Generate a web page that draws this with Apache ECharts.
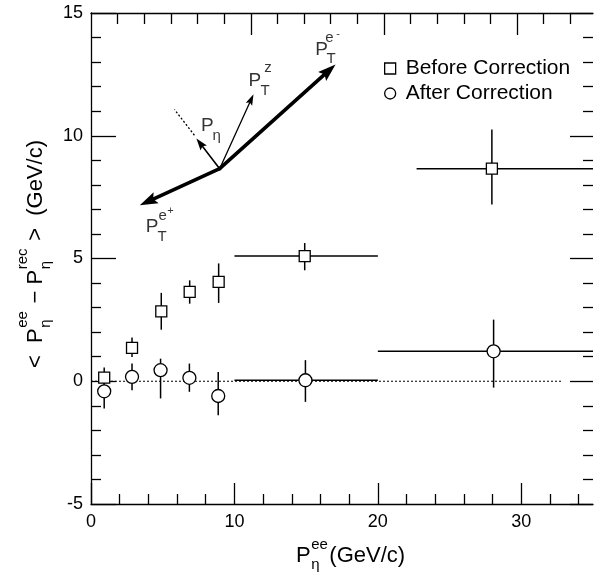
<!DOCTYPE html>
<html><head><meta charset="utf-8">
<script src="https://cdn.jsdelivr.net/npm/echarts@6/dist/echarts.min.js"></script>
<style>html,body{margin:0;padding:0;background:#fff}#c{width:595px;height:579px}</style>
</head><body><div id="c"></div>
<script>
// ---------- data ----------
const beforeX     = [0.92, 2.86, 4.90, 6.88, 8.90, 14.90, 27.95];
const beforeY     = [0.15, 1.36, 2.85, 3.64, 4.05, 5.10, 8.66];
const beforeYLow  = [-0.25, 0.99, 2.10, 3.16, 3.19, 4.52, 7.20];
const beforeYHigh = [0.56, 1.78, 3.60, 4.11, 4.80, 5.63, 10.25];
const beforeXLow  = [null, null, null, null, null, 10, 22.7];
const beforeXHigh = [null, null, null, null, null, 20, 35];

const afterX     = [0.92, 2.86, 4.85, 6.86, 8.87, 14.95, 28.07];
const afterY     = [-0.41, 0.18, 0.45, 0.14, -0.60, 0.04, 1.22];
const afterYLow  = [-1.11, -0.37, -0.70, -0.43, -1.38, -0.84, -0.26];
const afterYHigh = [0.29, 0.72, 0.92, 0.72, 0.38, 0.86, 2.51];
const afterXLow  = [null, null, null, null, null, 10, 20];
const afterXHigh = [null, null, null, null, null, 20, 35];

const zeroLine = [[0, 0], [32.8, 0]];

const xMajorTicks = [0, 10, 20, 30];
const xTickLabels = ['0', '10', '20', '30'];
const yTickLabels = ['-5', '0', '5', '10', '15'];

// schematic vectors (data coordinates)
const arrowNames = ['ePlus', 'eMinus', 'z', 'eta'];
const arrowFrom  = [[8.97, 8.66], [8.97, 8.66], [8.97, 8.66], [8.97, 8.66]];
const arrowTo    = [[3.40, 7.17], [17.05, 12.90], [11.33, 11.69], [7.35, 9.89]];
const etaDotted  = [[7.21, 10.02], [5.82, 11.07]];

const labelText = ['P', 'η', 'P', 'T', 'z', 'P', 'T', 'e', '-', 'P', 'T', 'e', '+'];
const labelRole = ['main', 'sub', 'main', 'sub', 'sup', 'main', 'sub', 'sup', 'sign', 'main', 'sub', 'sup', 'sign'];
const labelX = [8.11, 8.77, 11.43, 12.13, 12.34, 16.08, 16.74, 16.63, 17.22, 4.26, 4.95, 4.99, 5.54];
const labelY = [10.39, 9.98, 12.24, 11.81, 12.75, 13.52, 13.12, 13.97, 14.13, 6.31, 5.87, 6.72, 6.92];

// ---------- styles ----------
const FF = '"Liberation Sans", Arial, Helvetica, sans-serif';
const BLACK = '#000';
const ROLE_SIZE = { main: 19, sub: 15, sup: 15, sign: 11 };
const ARROW_STYLE = {
  ePlus:  { w: 3.6, hl: 18, hw: 12 },
  eMinus: { w: 3.6, hl: 18, hw: 12 },
  z:      { w: 1.3, hl: 11, hw: 7 },
  eta:    { w: 1.6, hl: 12, hw: 8 }
};

const xMinorTicks = [];
for (let v = 2; v < 35; v += 2) if (v % 10 !== 0) xMinorTicks.push(v);
const topMajorTicks = [6, 11, 16];
const topMinorTicks = [];
for (let v = 1; v <= 18; v++) if (topMajorTicks.indexOf(v) < 0) topMinorTicks.push(v);

const tickLine = { color: BLACK, width: 1.3 };

function errRender(xs, ys, lo, hi, xlo, xhi) {
  return function (params, api) {
    const i = params.dataIndex;
    const ch = [];
    const a = api.coord([xs[i], lo[i]]);
    const b = api.coord([xs[i], hi[i]]);
    ch.push({ type: 'line', shape: { x1: a[0], y1: a[1], x2: b[0], y2: b[1] }, style: { stroke: BLACK, lineWidth: 1.5 } });
    if (xlo[i] != null) {
      const c = api.coord([xlo[i], ys[i]]);
      const d = api.coord([xhi[i], ys[i]]);
      ch.push({ type: 'line', shape: { x1: c[0], y1: c[1], x2: d[0], y2: d[1] }, style: { stroke: BLACK, lineWidth: 1.5 } });
    }
    return { type: 'group', children: ch };
  };
}

function arrowRender(params, api) {
  const i = params.dataIndex;
  const st = ARROW_STYLE[arrowNames[i]];
  const p0 = api.coord(arrowFrom[i]);
  const p1 = api.coord(arrowTo[i]);
  const dx = p1[0] - p0[0], dy = p1[1] - p0[1];
  const L = Math.sqrt(dx * dx + dy * dy);
  const ux = dx / L, uy = dy / L, nx = -uy, ny = ux;
  const bx = p1[0] - ux * st.hl, by = p1[1] - uy * st.hl;
  const nbx = p1[0] - ux * st.hl * 0.82, nby = p1[1] - uy * st.hl * 0.82;
  return {
    type: 'group',
    children: [
      { type: 'line', shape: { x1: p0[0], y1: p0[1], x2: nbx, y2: nby }, style: { stroke: BLACK, lineWidth: st.w, lineCap: 'round' } },
      { type: 'polygon', shape: { points: [[p1[0], p1[1]], [bx + nx * st.hw / 2, by + ny * st.hw / 2], [nbx, nby], [bx - nx * st.hw / 2, by - ny * st.hw / 2]] }, style: { fill: BLACK } }
    ]
  };
}

const measureCtx = document.createElement('canvas').getContext('2d');
function measure(t, size) { measureCtx.font = size + 'px ' + FF; return measureCtx.measureText(t).width; }

function layoutMath(segs, mainSize, smallSize, supOff, subOff) {
  let x = 0;
  const els = [];
  segs.forEach(function (s) {
    if (s.t !== undefined) {
      els.push({ type: 'text', x: x, y: 0, style: { text: s.t, font: mainSize + 'px ' + FF, fill: BLACK, align: 'left', verticalAlign: 'middle' } });
      x += measure(s.t, mainSize);
    } else {
      els.push({ type: 'text', x: x + 0.5, y: supOff, style: { text: s.sup, font: smallSize + 'px ' + FF, fill: BLACK, align: 'left', verticalAlign: 'middle' } });
      els.push({ type: 'text', x: x + 0.5, y: subOff, style: { text: s.sub, font: smallSize + 'px ' + FF, fill: BLACK, align: 'left', verticalAlign: 'middle' } });
      x += Math.max(measure(s.sup, smallSize), measure(s.sub, smallSize)) + 2;
    }
  });
  return els;
}

const yTitleEls = layoutMath([
  { t: '<  P' }, { sup: 'ee', sub: 'η' }, { t: ' − P' }, { sup: 'rec', sub: 'η' }, { t: ' >  (GeV/c)' }
], 22, 15, -13, 10);
const xTitleEls = layoutMath([
  { t: 'P' }, { sup: 'ee', sub: 'η' }, { t: '(GeV/c)' }
], 22, 15, -11, 9);

const chart = echarts.init(document.getElementById('c'), null, { renderer: 'canvas' });

chart.setOption({
  animation: false,
  backgroundColor: '#fff',
  grid: { left: 91, right: 2, top: 13, bottom: 75, containLabel: false },
  legend: {
    orient: 'vertical', left: 384, top: 58, padding: 0, itemWidth: 11, itemHeight: 11, itemGap: 4,
    selectedMode: false,
    textStyle: { fontSize: 21, color: BLACK, fontFamily: FF, lineHeight: 21, padding: [0, 0, 0, 5] },
    data: [
      { name: 'Before Correction', icon: 'rect', itemStyle: { color: '#fff', borderColor: BLACK, borderWidth: 1.3 } },
      { name: 'After Correction', icon: 'circle', itemStyle: { color: '#fff', borderColor: BLACK, borderWidth: 1.3 } }
    ]
  },
  xAxis: [
    {
      type: 'value', position: 'bottom', min: 0, max: 35,
      axisLine: { onZero: false, lineStyle: tickLine },
      axisTick: { inside: true, length: 21, customValues: xMajorTicks, lineStyle: tickLine },
      axisLabel: { customValues: xMajorTicks, formatter: function (v) { return xTickLabels[xMajorTicks.indexOf(v)]; }, fontSize: 18, color: BLACK, fontFamily: FF, margin: 9 },
      splitLine: { show: false }
    },
    {
      type: 'value', position: 'bottom', min: 0, max: 35,
      axisLine: { show: false, onZero: false },
      axisTick: { inside: true, length: 10, customValues: xMinorTicks, lineStyle: tickLine },
      axisLabel: { show: false }, splitLine: { show: false }
    },
    {
      type: 'value', position: 'top', min: 0, max: 18.85,
      axisLine: { onZero: false, lineStyle: tickLine },
      axisTick: { inside: true, length: 11, customValues: topMinorTicks, lineStyle: tickLine },
      axisLabel: { show: false }, splitLine: { show: false }
    },
    {
      type: 'value', position: 'top', min: 0, max: 18.85,
      axisLine: { show: false, onZero: false },
      axisTick: { inside: true, length: 22, customValues: topMajorTicks, lineStyle: tickLine },
      axisLabel: { show: false }, splitLine: { show: false }
    }
  ],
  yAxis: [
    {
      type: 'value', position: 'left', min: -5, max: 15, interval: 5,
      axisLine: { onZero: false, lineStyle: tickLine },
      axisTick: { inside: true, length: 25, lineStyle: tickLine },
      minorTick: { show: true, splitNumber: 5, length: 10, lineStyle: tickLine },
      axisLabel: { fontSize: 18, color: BLACK, fontFamily: FF, margin: 8, formatter: function (v) { return yTickLabels[Math.round((v + 5) / 5)]; } },
      splitLine: { show: false }
    },
    {
      type: 'value', position: 'right', min: -5, max: 15, interval: 5,
      axisLine: { show: false, onZero: false },
      axisTick: { inside: true, length: 23, lineStyle: tickLine },
      minorTick: { show: true, splitNumber: 5, length: 10, lineStyle: tickLine },
      axisLabel: { show: false }, splitLine: { show: false }
    }
  ],
  series: [
    {
      type: 'line', name: 'zero', data: zeroLine, symbol: 'none', silent: true, z: 1,
      lineStyle: { color: BLACK, width: 1, type: [2, 2] }
    },
    {
      type: 'custom', name: 'beforeErr', silent: true, z: 2,
      data: beforeX.map(function (x, i) { return [x, beforeY[i]]; }),
      renderItem: errRender(beforeX, beforeY, beforeYLow, beforeYHigh, beforeXLow, beforeXHigh)
    },
    {
      type: 'custom', name: 'afterErr', silent: true, z: 2,
      data: afterX.map(function (x, i) { return [x, afterY[i]]; }),
      renderItem: errRender(afterX, afterY, afterYLow, afterYHigh, afterXLow, afterXHigh)
    },
    {
      type: 'scatter', name: 'Before Correction', symbol: 'rect', symbolSize: 11, z: 3,
      itemStyle: { color: '#fff', borderColor: BLACK, borderWidth: 1.3, opacity: 1 },
      data: beforeX.map(function (x, i) { return [x, beforeY[i]]; })
    },
    {
      type: 'scatter', name: 'After Correction', symbol: 'circle', symbolSize: 13, z: 4,
      itemStyle: { color: '#fff', borderColor: BLACK, borderWidth: 1.3, opacity: 1 },
      data: afterX.map(function (x, i) { return [x, afterY[i]]; })
    },
    {
      type: 'line', name: 'etaDotted', data: etaDotted, symbol: 'none', silent: true, z: 5,
      lineStyle: { color: BLACK, width: 1.3, type: [2, 2] }
    },
    {
      type: 'custom', name: 'arrows', silent: true, z: 5, clip: false,
      data: arrowTo.map(function (p) { return [p[0], p[1]]; }),
      renderItem: arrowRender
    },
    {
      type: 'scatter', name: 'labels', silent: true, symbolSize: 1, z: 6,
      itemStyle: { color: 'rgba(0,0,0,0)' },
      label: { show: true, position: 'inside', color: BLACK, fontFamily: FF },
      data: labelText.map(function (t, i) {
        return { value: [labelX[i], labelY[i]], label: { formatter: t, fontSize: ROLE_SIZE[labelRole[i]] } };
      })
    }
  ],
  graphic: [
    { type: 'group', x: 36, y: 368, rotation: Math.PI / 2, children: yTitleEls },
    { type: 'group', x: 296, y: 556, children: xTitleEls }
  ]
});
</script></body></html>
